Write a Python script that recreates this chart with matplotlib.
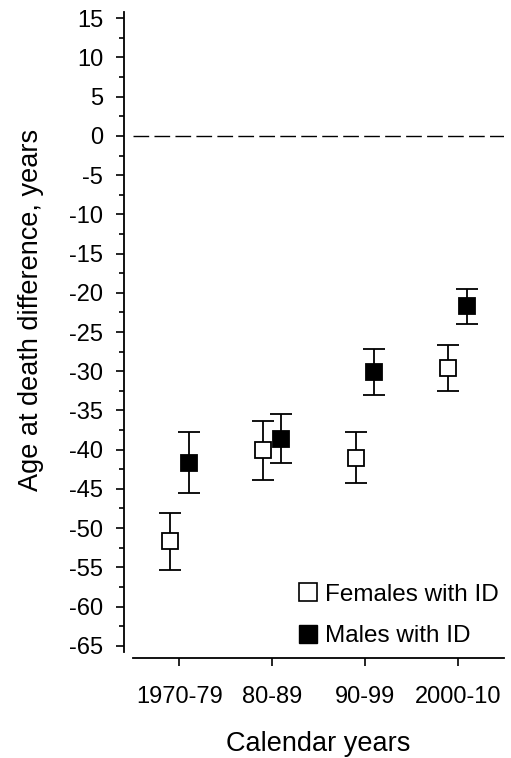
import matplotlib
matplotlib.use("Agg")
import matplotlib.pyplot as plt
from matplotlib.lines import Line2D

plt.rcParams['font.family'] = ['Liberation Sans', 'DejaVu Sans']
plt.rcParams['axes.unicode_minus'] = False

# Data
periods = ["1970-79", "80-89", "90-99", "2000-10"]
female_mean = [-51.7, -40.1, -41.0, -29.6]
female_lo = [-55.3, -43.9, -44.2, -32.5]
female_hi = [-48.1, -36.3, -37.8, -26.7]
male_mean = [-41.7, -38.6, -30.1, -21.7]
male_lo = [-45.5, -41.7, -33.0, -24.0]
male_hi = [-37.8, -35.5, -27.2, -19.5]

fig = plt.figure(figsize=(5.11, 7.58), dpi=100)
ax = fig.add_axes([0.2603, 0.1398, 0.726, 0.8444])

x = list(range(len(periods)))
off = 0.1

def draw(means, lo, hi, shift, face):
    xs = [i + shift for i in x]
    err = [[m - l for m, l in zip(means, lo)], [h - m for m, h in zip(means, hi)]]
    ax.errorbar(xs, means, yerr=err, fmt='s', color='black', ecolor='black',
                elinewidth=1.3, capsize=8, capthick=1.3, markersize=11,
                markerfacecolor=face, markeredgecolor='black', markeredgewidth=1.3,
                zorder=3)

draw(female_mean, female_lo, female_hi, -off, 'white')
draw(male_mean, male_lo, male_hi, off, 'black')

# zero reference line
ax.axhline(0, color='black', lw=1.0, dashes=(11.3, 3.8), zorder=1)

ax.set_xlim(-0.5, 3.5)
ax.set_ylim(-65.8, 15.8)
ax.set_yticks(range(-65, 16, 5))
ax.set_yticks([v + 2.5 for v in range(-65, 15, 5)], minor=True)
ax.set_xticks(x)
ax.set_xticklabels(periods)

for s in ['top', 'right']:
    ax.spines[s].set_visible(False)
ax.spines['left'].set_position(('outward', 6.5))
ax.spines['bottom'].set_position(('outward', 4.3))
ax.spines['left'].set_linewidth(1.3)
ax.spines['bottom'].set_linewidth(1.3)

ax.tick_params(axis='both', which='major', direction='out', length=5.5, width=1.2,
               labelsize=17)
ax.tick_params(axis='y', which='major', pad=9.5)
ax.tick_params(axis='x', which='major', pad=15)
ax.tick_params(axis='y', which='minor', direction='out', length=3.4, width=1.2)

ax.set_xlabel("Calendar years", fontsize=19.5, labelpad=16)
fig.text(31 / 511, 1 - 310 / 758, "Age at death difference, years", fontsize=19.5,
         rotation=90, ha='center', va='center')

handles = [
    Line2D([], [], marker='s', linestyle='none', markersize=12.5,
           markerfacecolor='white', markeredgecolor='black', markeredgewidth=1.2),
    Line2D([], [], marker='s', linestyle='none', markersize=12.5,
           markerfacecolor='black', markeredgecolor='black'),
]
ax.legend(handles, ["Females with ID", "Males with ID"], loc='lower right',
          frameon=False, fontsize=17.5, handlelength=0.8, handletextpad=0.3,
          labelspacing=0.8, borderaxespad=0.0, borderpad=0.2)

fig.savefig("out.png", dpi=100)
